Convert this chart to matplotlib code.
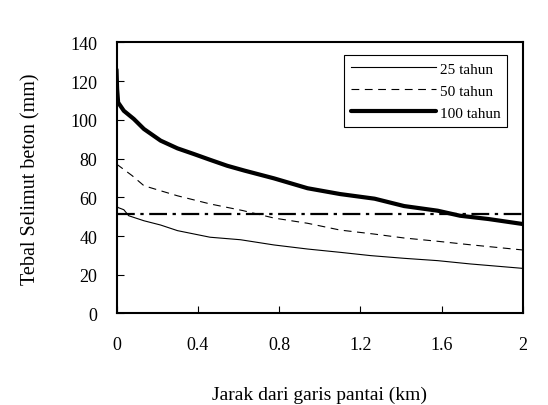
import matplotlib
matplotlib.use("Agg")
import matplotlib.pyplot as plt

plt.rcParams['font.family'] = ['Liberation Serif', 'DejaVu Serif']

# Distance from shoreline (km) and concrete cover thickness (mm)
x25 = [0.0, 0.006, 0.036, 0.06, 0.135, 0.217, 0.30, 0.46, 0.61, 0.775, 0.94, 1.10, 1.25, 1.415, 1.58, 1.74, 2.0]
y25 = [57.4, 54.8, 53.6, 50.5, 47.9, 45.7, 42.8, 39.4, 38.1, 35.4, 33.3, 31.6, 29.9, 28.5, 27.3, 25.6, 23.3]

x50 = [0.0, 0.077, 0.135, 0.217, 0.30, 0.46, 0.62, 0.775, 0.94, 1.10, 1.27, 1.415, 1.58, 1.74, 2.0]
y50 = [77.2, 71.2, 66.0, 63.4, 60.8, 56.6, 53.2, 49.3, 46.6, 43.1, 41.0, 39.0, 37.3, 35.5, 32.8]

x100 = [0.0, 0.003, 0.008, 0.036, 0.085, 0.135, 0.217, 0.30, 0.38, 0.46, 0.545, 0.63, 0.775, 0.94, 1.10, 1.27, 1.415, 1.58, 1.69, 1.83, 2.0]
y100 = [126.0, 116.0, 109.0, 104.7, 100.5, 95.3, 89.3, 85.3, 82.4, 79.4, 76.3, 73.8, 69.8, 64.7, 61.7, 59.3, 55.5, 53.1, 50.5, 48.8, 46.2]

limit_value = 51.4
series_labels = ['25 tahun', '50 tahun', '100 tahun']
x_ticks = [0, 0.4, 0.8, 1.2, 1.6, 2]
x_tick_labels = ['0', '0.4', '0.8', '1.2', '1.6', '2']
y_ticks = [0, 20, 40, 60, 80, 100, 120, 140]

fig = plt.figure(figsize=(5.48, 4.06), dpi=100)
ax = fig.add_axes([0.2126, 0.2254, 0.7418, 0.6675])

ax.plot(x25, y25, color='black', lw=0.8, label=series_labels[0])
ax.plot(x50, y50, color='black', lw=0.8, dashes=(7, 5), label=series_labels[1])
ax.plot(x100, y100, color='black', lw=3.0, label=series_labels[2], solid_capstyle='round')
ax.axhline(limit_value, color='black', lw=1.6, dashes=(8, 2.5, 1.5, 2.5))

ax.set_xlim(0, 2)
ax.set_ylim(0, 140)
ax.set_xticks(x_ticks)
ax.set_xticklabels(x_tick_labels)
ax.set_yticks(y_ticks)
ax.tick_params(direction='in', length=5, width=0.8, labelsize=13)
ax.tick_params(axis='x', pad=16)
ax.tick_params(axis='y', pad=14)
for s in ax.spines.values():
    s.set_linewidth(1.5)

ax.set_xlabel('Jarak dari garis pantai (km)', fontsize=14, labelpad=24)
ax.set_ylabel('Tebal Selimut beton (mm)', fontsize=14.5, labelpad=21)

leg = ax.legend(loc='upper right', bbox_to_anchor=(0.961, 0.954), borderaxespad=0,
                fancybox=False, edgecolor='black', framealpha=1, fontsize=11,
                handlelength=5.6, handletextpad=0.2, labelspacing=0.55,
                borderpad=0.45)
leg.get_frame().set_linewidth(0.8)

fig.savefig('out.png', dpi=100)
